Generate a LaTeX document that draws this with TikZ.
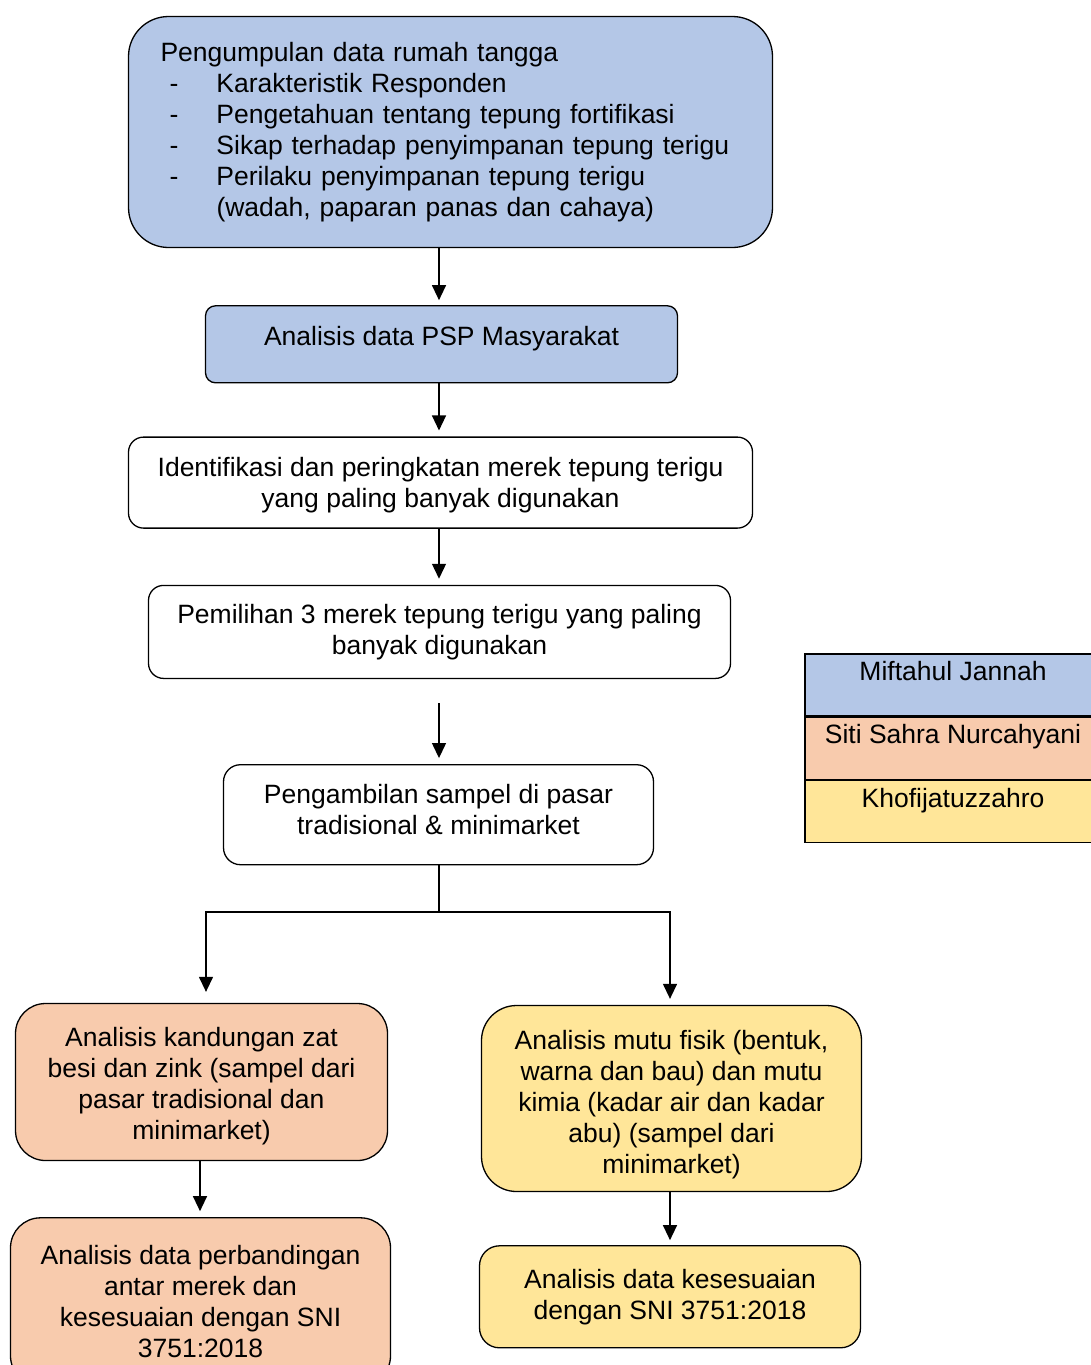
\documentclass[tikz,border=0pt]{standalone}
\usepackage{fontspec}
\setmainfont{Liberation Sans}
\usepackage{tikz}
\usetikzlibrary{arrows.meta,positioning}
\definecolor{stepblue}{HTML}{B4C7E7}
\definecolor{steporange}{HTML}{F8CBAD}
\definecolor{stepyellow}{HTML}{FFE699}
\newcommand{\dashitem}{\makebox[56pt][l]{\hspace{9pt}-}}

\begin{document}
\begin{tikzpicture}[x=1pt,y=-1pt,
  box/.style={rectangle,draw,line width=1.3pt,fill=white,
              font=\fontsize{26.5pt}{31pt}\selectfont,align=center},
  legrow/.style={rectangle,draw,line width=1.3pt,
              minimum width=296pt,minimum height=62pt,inner ysep=2pt,
              text height=19pt,text depth=28pt,
              font=\fontsize{26.5pt}{31pt}\selectfont},
  arr/.style={-{Triangle[width=14pt,length=15pt]},line width=1.3pt,shorten >=5pt}
]
\useasboundingbox (0,0) rectangle (1091,1365);

\node[box,fill=stepblue,rounded corners=40pt,minimum width=644pt,minimum height=231pt,
      text width=580pt,inner xsep=32pt,align=left] (collect) at (450.5,132)
  {Pengumpulan data rumah tangga\\
   \dashitem Karakteristik Responden\\
   \dashitem Pengetahuan tentang tepung fortifikasi\\
   \dashitem Sikap terhadap penyimpanan tepung terigu\\
   \dashitem Perilaku penyimpanan tepung terigu\\
   \hspace*{56pt}(wadah, paparan panas dan cahaya)};
\node[box,fill=stepblue,rounded corners=10pt,minimum width=472pt,minimum height=77pt,
      text depth=16pt] (psp) [below=57pt of collect,xshift=-9pt]
  {Analisis data PSP Masyarakat};
\node[box,rounded corners=15pt,minimum width=624pt,minimum height=91pt,text height=56pt]
  (ident) [below=53pt of psp,xshift=-1pt]
  {Identifikasi dan peringkatan merek tepung terigu\\yang paling banyak digunakan};
\node[box,rounded corners=15pt,minimum width=582pt,minimum height=93pt]
  (choose) [below=56pt of ident,xshift=-1pt]
  {Pemilihan 3 merek tepung terigu yang paling\\banyak digunakan};
\node[box,rounded corners=17pt,minimum width=430pt,minimum height=100pt,text height=40pt]
  (sampling) [below=85pt of choose,xshift=-1pt]
  {Pengambilan sampel di pasar\\tradisional \& minimarket};

\node[box,fill=steporange,rounded corners=30pt,minimum width=372pt,minimum height=157pt,
      text height=120pt] (iron) at (201.5,1082)
  {Analisis kandungan zat\\besi dan zink (sampel dari\\pasar tradisional dan\\minimarket)};
\node[box,fill=steporange,rounded corners=30pt,minimum width=380pt,minimum height=168pt]
  (compare) [below=56pt of iron,xshift=-1pt]
  {Analisis data perbandingan\\antar merek dan\\kesesuaian dengan SNI\\3751:2018};
\node[box,fill=stepyellow,rounded corners=35pt,minimum width=380pt,minimum height=186pt,
      text height=155pt] (quality) at (671.5,1098.5)
  {Analisis mutu fisik (bentuk,\\warna dan bau) dan mutu\\kimia (kadar air dan kadar\\abu) (sampel dari\\minimarket)};
\node[box,fill=stepyellow,rounded corners=20pt,minimum width=381pt,minimum height=102pt]
  (sni) [below=53pt of quality,xshift=-1.5pt]
  {Analisis data kesesuaian\\dengan SNI 3751:2018};

\node[legrow,fill=stepblue] (leg1) at (953,685) {Miftahul Jannah};
\node[legrow,fill=steporange] (leg2) [below=0pt of leg1] {Siti Sahra Nurcahyani};
\node[legrow,fill=stepyellow] (leg3) [below=0pt of leg2] {Khofijatuzzahro};

\coordinate (spine) at (439,0);
\coordinate (fork) at (439,912);
\coordinate (lfork) at (206,912);
\coordinate (rfork) at (670,912);
\coordinate (lcol) at (200,0);

\draw[arr] (collect.south -| spine) -- (psp.north -| spine);
\draw[arr,shorten >=6pt] (psp.south -| spine) -- (ident.north -| spine);
\draw[arr,shorten >=6pt] (ident.south -| spine) -- (choose.north -| spine);
\draw[arr,shorten <=24pt,shorten >=6pt] (choose.south -| spine) -- (sampling.north -| spine);
\draw[arr,shorten >=11pt] (sampling.south -| spine) -- (fork) -- (lfork) -- (lfork |- iron.north);
\draw[arr,shorten >=6pt] (fork) -- (rfork) -- (rfork |- quality.north);
\draw[arr,shorten >=6pt] (iron.south -| lcol) -- (compare.north -| lcol);
\draw[arr] (quality.south -| rfork) -- (sni.north -| rfork);
\end{tikzpicture}
\end{document}
